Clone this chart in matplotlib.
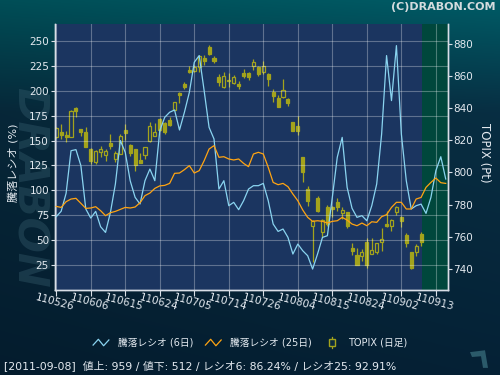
import numpy as np
import matplotlib
matplotlib.use("Agg")
import matplotlib.pyplot as plt
from matplotlib.lines import Line2D
from matplotlib.patches import Rectangle, Polygon
from matplotlib.legend_handler import HandlerBase

# ─────────────────────────────────────────────
#  DATA
# ─────────────────────────────────────────────

tick_days   = [0, 7, 14, 21, 28, 35, 42, 49, 56, 63, 70, 77]
tick_labels = ["110526", "110606", "110615", "110624", "110705", "110714",
               "110726", "110804", "110815", "110824", "110902", "110913"]

topix_open = [822.2, 825.1, 823.2, 822.2, 839.8, 826.8, 825.1, 814.6, 806.7, 812.5,
              810.9, 818.3, 808.6, 811.5, 826.4, 817.0, 814.4, 807.7, 811.0, 819.3,
              822.9, 833.2, 830.7, 832.6, 838.8, 849.4, 855.0, 863.9, 863.2, 865.3,
              870.9, 878.2, 870.9, 859.1, 852.9, 857.6, 855.4, 855.0, 862.0, 861.8,
              866.4, 865.3, 862.6, 861.2, 850.2, 846.2, 846.7, 845.6, 831.1, 829.1,
              809.4, 789.7, 766.5, 784.1, 762.8, 778.7, 778.7, 781.4, 774.8, 775.2,
              753.1, 748.9, 747.9, 756.6, 749.3, 750.4, 756.6, 768.0, 766.9, 775.2,
              772.5, 761.3, 750.4, 750.8, 761.8]
topix_high = [828.5, 830.1, 826.0, 838.5, 840.5, 827.2, 828.2, 815.0, 814.0, 816.6,
              814.6, 823.9, 813.0, 823.9, 830.1, 817.4, 814.8, 812.1, 816.0, 831.1,
              830.7, 833.6, 831.0, 834.7, 843.9, 849.8, 856.4, 866.0, 866.9, 873.0,
              873.0, 879.4, 872.5, 861.2, 862.6, 861.6, 860.5, 857.0, 864.3, 862.2,
              870.5, 866.4, 869.4, 861.6, 851.8, 848.3, 858.0, 846.2, 831.5, 835.3,
              809.8, 791.4, 770.4, 785.2, 771.0, 779.8, 779.2, 784.1, 778.3, 775.6,
              756.2, 753.1, 752.4, 759.3, 759.1, 756.4, 765.5, 776.2, 771.0, 779.4,
              772.9, 762.4, 750.8, 755.2, 762.8]
topix_low = [821.5, 820.8, 818.7, 821.8, 834.2, 822.6, 815.8, 805.2, 805.4, 809.8,
             807.1, 814.6, 806.7, 811.2, 820.2, 810.4, 801.1, 805.8, 808.0, 819.0,
             822.5, 826.0, 823.9, 829.1, 838.5, 843.2, 851.8, 861.6, 862.2, 862.2,
             866.8, 873.2, 867.8, 853.9, 852.6, 852.9, 855.0, 851.9, 858.5, 857.6,
             863.9, 860.1, 861.2, 853.9, 844.0, 840.5, 846.3, 841.5, 825.6, 823.5,
             793.9, 779.4, 744.2, 775.2, 759.7, 766.9, 772.1, 776.2, 771.0, 765.5,
             748.9, 742.3, 745.2, 740.4, 749.0, 749.3, 751.4, 766.2, 763.8, 773.2,
             765.9, 753.5, 740.0, 748.3, 754.0]
topix_close = [827.5, 823.5, 822.0, 838.0, 838.4, 825.1, 816.0, 807.3, 813.5, 814.6,
               813.0, 816.6, 812.1, 822.4, 824.3, 811.9, 804.8, 806.1, 815.6, 828.9,
               825.3, 826.4, 824.9, 829.7, 843.6, 847.9, 852.9, 862.2, 865.7, 872.6,
               869.0, 873.6, 869.0, 856.0, 860.1, 856.6, 859.5, 853.5, 860.1, 859.1,
               868.6, 861.2, 866.4, 858.0, 847.7, 840.9, 851.2, 843.2, 826.0, 826.0,
               800.1, 782.5, 770.0, 776.2, 770.7, 768.0, 777.3, 778.7, 776.7, 766.9,
               751.4, 742.7, 750.8, 742.7, 751.8, 756.0, 758.6, 766.5, 770.5, 778.3,
               769.6, 755.9, 740.6, 754.0, 756.6]

ratio6 = [73.6, 79.0, 97.0, 139.8, 140.9, 124.8, 81.3, 72.2, 78.9, 63.5,
          57.8, 78.0, 106.4, 150.0, 138.2, 109.7, 93.0, 86.3, 109.7, 121.4,
          109.7, 159.9, 173.3, 178.4, 180.7, 160.6, 178.4, 198.4, 228.6, 235.3,
          200.1, 163.3, 151.6, 101.3, 109.7, 84.6, 88.0, 80.6, 89.6, 101.3,
          104.7, 104.7, 107.0, 89.6, 66.2, 58.8, 61.2, 52.8, 36.1, 46.1,
          39.4, 34.4, 21.0, 36.1, 52.8, 54.5, 93.0, 133.2, 153.2, 103.0,
          82.0, 72.9, 74.6, 69.5, 84.6, 106.4, 156.6, 235.3, 190.1, 245.3,
          156.6, 109.7, 81.3, 84.6, 86.2, 76.9, 93.0, 119.8, 133.8, 111.4]
ratio25 = [83.9, 82.9, 88.6, 91.3, 92.0, 87.0, 81.9, 82.3, 83.6, 79.6,
           74.6, 77.6, 78.9, 80.9, 82.9, 82.3, 83.3, 87.6, 94.7, 97.3,
           102.0, 104.5, 105.0, 107.0, 117.1, 117.4, 120.8, 124.8, 117.4, 119.8,
           129.8, 141.5, 144.9, 133.2, 133.8, 131.5, 130.5, 131.5, 127.1, 123.8,
           136.5, 138.2, 136.5, 123.1, 108.0, 105.7, 107.0, 103.7, 96.3, 89.6,
           80.3, 72.9, 68.9, 69.5, 68.9, 67.2, 68.9, 69.5, 72.9, 70.2,
           66.2, 64.5, 67.2, 64.5, 68.5, 67.9, 73.6, 75.6, 82.9, 88.0,
           88.0, 81.3, 81.3, 91.3, 92.9, 103.0, 108.0, 112.4, 107.7, 107.0]

LAST_DAY = 74   # 2011-09-08
FOOTER = "[2011-09-08]  値上: 959 / 値下: 512 / レシオ6: 86.24% / レシオ25: 92.91%"

# ─────────────────────────────────────────────
#  STYLE
# ─────────────────────────────────────────────

JP = ["DejaVu Sans", "Noto Sans CJK JP"]
PLOT_BG  = "#1b3560"
GREEN_BG = "#00473c"
OLIVE    = "#a3a31c"
C_R6     = "#8ad4f0"
C_R25    = "#ffa412"
TXT      = "#e4eaf0"
AXC      = "#d8dee6"


class ZigzagHandler(HandlerBase):
    def create_artists(self, legend, orig, xd, yd, w, h, fs, trans):
        xs = np.array([0.05, 0.35, 0.65, 0.95]) * w - xd
        ys = np.array([0.1, 0.95, 0.0, 0.85]) * h - yd
        ln = Line2D(xs, ys, color=orig.get_color(), lw=0.9, transform=trans)
        return [ln]


class CandleHandler(HandlerBase):
    def create_artists(self, legend, orig, xd, yd, w, h, fs, trans):
        cx = 0.5 * w - xd
        wick = Line2D([cx, cx], [-0.35 * h - yd, 1.35 * h - yd],
                      color=OLIVE, lw=0.9, transform=trans)
        box = Rectangle((cx - 0.18 * w, -0.05 * h - yd), 0.36 * w, 1.1 * h,
                        facecolor="#0b2a40", edgecolor=OLIVE, lw=1.0,
                        transform=trans)
        return [wick, box]


fig = plt.figure(figsize=(5, 3.75), dpi=100)

# background gradient
bg = fig.add_axes([0, 0, 1, 1], zorder=-10)
yy = np.linspace(0, 1, 375)[:, None]
xx = np.linspace(0, 1, 500)[None, :]
top = np.array([0.0, 0.36, 0.40])
mid = np.array([0.03, 0.18, 0.26])
bot = np.array([0.02, 0.13, 0.21])
t1 = np.clip(yy / 0.3, 0, 1)[..., None]
t2 = np.clip((yy - 0.3) / 0.7, 0, 1)[..., None]
img = np.where(yy[..., None] < 0.3, top * (1 - t1) + mid * t1, mid * (1 - t2) + bot * t2)
img = img * (0.85 + 0.15 * xx[..., None])
img = np.clip(np.broadcast_to(img, (375, 500, 3)), 0, 1)
bg.imshow(img, extent=[0, 1, 0, 1], aspect="auto", origin="upper")
bg.axis("off")

# watermark
fig.text(0.058, 0.5, "DRABON", rotation=-90, ha="center", va="center",
         fontsize=30, fontweight="bold", fontstyle="italic",
         color="#3d6676", alpha=0.35, zorder=-5)
fig.patches.append(Polygon([(0.940, 0.061), (0.970, 0.066), (0.976, 0.019),
                            (0.966, 0.019), (0.962, 0.050), (0.944, 0.048)],
                           closed=True, transform=fig.transFigure,
                           facecolor="#2b5a6a", edgecolor="none"))

ax = fig.add_axes([0.109, 0.2267, 0.7864, 0.7093])
ax2 = ax.twinx()
ax.set_zorder(2)
ax2.set_zorder(1)
ax.patch.set_visible(False)
ax2.patch.set_visible(True)
ax2.patch.set_facecolor(PLOT_BG)

days = np.arange(len(topix_open))
o = np.array(topix_open)
c = np.array(topix_close)
up = c >= o

# green "future" zone
ax2.axvspan(LAST_DAY + 0.1, 80, color=GREEN_BG, zorder=0, lw=0)

# candles
ax2.vlines(days, topix_low, topix_high, color=OLIVE, lw=0.9, zorder=2)
ax2.bar(days[up], (c - o)[up], bottom=o[up], width=0.62,
        facecolor=PLOT_BG, edgecolor=OLIVE, lw=0.9, zorder=3)
ax2.bar(days[~up], (o - c)[~up], bottom=c[~up], width=0.62,
        facecolor=OLIVE, edgecolor=OLIVE, lw=0.9, zorder=3)

# ratio lines
rd = np.arange(len(ratio6))
ax.plot(rd, ratio6, color=C_R6, lw=0.9, zorder=4)
ax.plot(rd, ratio25, color=C_R25, lw=0.9, zorder=5)

ax.set_xlim(-0.35, 79.4)
ax.set_ylim(0, 267)
ax2.set_ylim(726.9, 892.2)

ax.set_xticks(tick_days)
ax.set_xticklabels(tick_labels)
ax.set_yticks(np.arange(25, 251, 25))
ax2.set_yticks(np.arange(740, 881, 20))

ax.grid(True, color="white", alpha=0.3, lw=0.8)
ax.set_axisbelow(True)

for a in (ax, ax2):
    for s in a.spines.values():
        s.set_color(AXC)
        s.set_linewidth(1.0)
    a.spines["top"].set_visible(False)

ax.tick_params(axis="y", colors=AXC, labelcolor=TXT, length=3, labelsize=7.5, pad=1)
ax.tick_params(axis="x", colors=AXC, labelcolor=TXT, length=4, labelsize=7.5, pad=1)
ax2.tick_params(axis="y", colors=AXC, labelcolor=TXT, length=3, labelsize=7.5, pad=1)
for lab in ax.get_xticklabels():
    lab.set_rotation(-15)
    lab.set_rotation_mode("anchor")
    lab.set_ha("center")
    lab.set_va("top")

# axis titles
fig.text(0.026, 0.565, "騰落レシオ (%)", rotation=90, ha="center", va="center",
         family=JP, fontsize=8, color=TXT)
fig.text(0.968, 0.592, "TOPIX (Pt)", rotation=-90, ha="center", va="center",
         family=JP, fontsize=8.5, color=TXT)
fig.text(0.992, 0.981, "(C)DRABON.COM", ha="right", va="center",
         fontsize=8, fontweight="bold", color="#d3dbde")

# legend
h6 = Line2D([], [], color=C_R6)
h25 = Line2D([], [], color=C_R25)
hc = Rectangle((0, 0), 1, 1)
fig.legend([h6, h25, hc], ["騰落レシオ (6日)", "騰落レシオ (25日)", "TOPIX (日足)"],
           handler_map={h6: ZigzagHandler(), h25: ZigzagHandler(), hc: CandleHandler()},
           loc="center", bbox_to_anchor=(0.5, 0.086), ncol=3, frameon=False,
           prop={"family": JP, "size": 7}, labelcolor=TXT,
           handlelength=1.8, handletextpad=0.8, columnspacing=1.2)

fig.text(0.008, 0.026, FOOTER, ha="left", va="center", family=JP,
         fontsize=7.8, color=TXT)

fig.savefig("out.png", dpi=100)
